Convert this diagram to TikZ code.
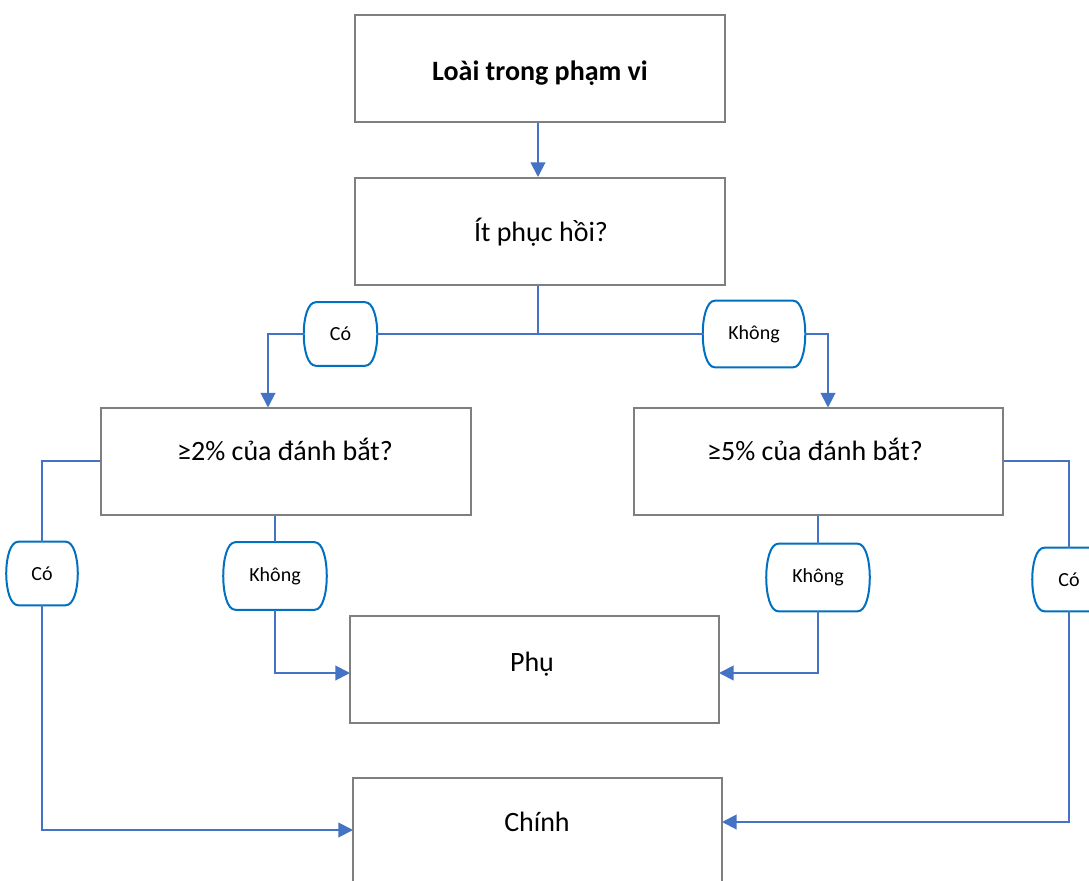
\documentclass[tikz,border=0pt]{standalone}
\usepackage{fontspec}
\setmainfont{Carlito}
\usetikzlibrary{arrows.meta}
\definecolor{flowblue}{HTML}{4472C4}
\definecolor{tagblue}{HTML}{0070C0}
\definecolor{boxgray}{HTML}{7F7F7F}

% rounded "barrel" tag holding a yes/no answer: name, cx, cy, width, height, text
\newcommand\flowtag[6]{%
  \node[tagtext, minimum width=#4*0.75pt, minimum height=#5*0.75pt] (#1) at (#2,#3) {#6};
  \draw[tagline] ([xshift=9pt]#1.north west) -- ([xshift=-9pt]#1.north east)
    .. controls ([xshift=3pt]#1.north east) and ([xshift=3pt]#1.south east) .. ([xshift=-9pt]#1.south east)
    -- ([xshift=9pt]#1.south west)
    .. controls ([xshift=-3pt]#1.south west) and ([xshift=-3pt]#1.north west) .. cycle;
}

\begin{document}
\begin{tikzpicture}[x=0.75pt,y=-0.75pt,
  box/.style={draw=boxgray, line width=1.5pt, minimum height=80.25pt, inner sep=0pt},
  title/.style={font=\fontsize{21}{25}\selectfont, anchor=base, inner sep=0pt},
  tagtext/.style={font=\fontsize{15}{18}\selectfont, inner sep=0pt},
  conn/.style={draw=flowblue, line width=1.5pt},
  arr/.style={conn, -{Triangle[length=11pt,width=11pt]}},
  tagline/.style={draw=tagblue, line width=1.5pt}]

\fill[white] (0,0) rectangle (1089,881);
\clip (0,0) rectangle (1089,881);

% boxes
\node[box, minimum width=277.5pt] (scope) at (540,68.5) {};
\node[box, minimum width=277.5pt] (resil) at (540,231.5) {};
\node[box, minimum width=277.5pt] (two)   at (286,461) {};
\node[box, minimum width=276.75pt] (five) at (818.5,461) {};
\node[box, minimum width=276.75pt] (minor) at (534.5,669.5) {};
\node[box, minimum width=276.75pt] (major) at (537.5,831.5) {};

% box texts
\node[title, font={\fontsize{21}{25}\selectfont\bfseries}] (tscope) at (540,81) {Loài trong phạm vi};
\node[title] (tresil) at (541,241) {Ít phục hồi?};
\node[title] (ttwo)   at (285,460) {≥2\% của đánh bắt?};
\node[title] (tfive)  at (815,460) {≥5\% của đánh bắt?};
\node[title] (tminor) at (532,671) {Phụ};
\node[title] (tmajor) at (537,831) {Chính};

% answer tags
\flowtag{yesA}{340.5}{334}{73}{63}{Có}
\flowtag{noA}{754}{334}{102}{66}{Không}
\flowtag{yesB}{42}{573.5}{71}{63}{Có}
\flowtag{noB}{275}{576}{103}{67}{Không}
\flowtag{noC}{818}{577.5}{103}{67}{Không}
\flowtag{yesC}{1069}{579.5}{73}{63}{Có}

% arrow targets on box edges
\coordinate (inTwo)  at (268,407.5);
\coordinate (inFive) at (828,407.5);
\coordinate (inMinorL) at (350,673);
\coordinate (inMinorR) at (719,673);
\coordinate (inMajorL) at (353,830);
\coordinate (inMajorR) at (722,822);

% connectors
\draw[arr] ([xshift=-1.5pt]scope.south) -- ([xshift=-1.5pt]resil.north);
\draw[conn] ([xshift=-1.5pt]resil.south) |- (yesA.east);
\draw[conn] ([xshift=-1.5pt]resil.south) |- (noA.west);
\draw[arr] (yesA.west) -| (inTwo);
\draw[arr] (noA.east) -| (inFive);

\draw[conn] (two.west) -| (yesB.north);
\draw[arr] (yesB.south) |- (inMajorL);
\draw[conn] (noB.north |- two.south) -- (noB.north);
\draw[arr] (noB.south) |- (inMinorL);

\draw[conn] (noC.north |- five.south) -- (noC.north);
\draw[arr] (noC.south) |- (inMinorR);
\draw[conn] (five.east) -| (yesC.north);
\draw[arr] (yesC.south) |- (inMajorR);
\end{tikzpicture}
\end{document}
